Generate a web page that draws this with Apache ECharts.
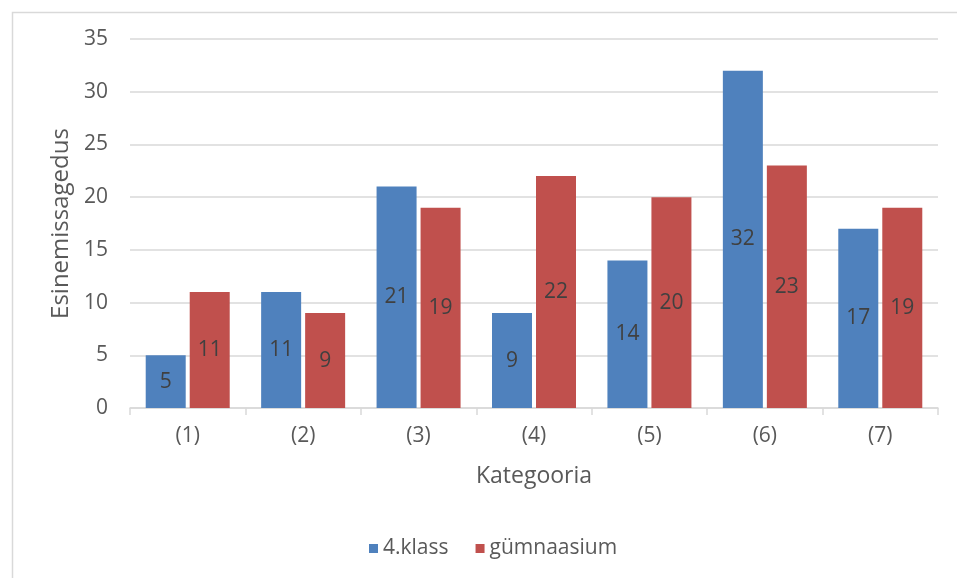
<!DOCTYPE html>
<html>
<head>
<meta charset="utf-8">
<script src="https://cdn.jsdelivr.net/npm/echarts@6/dist/echarts.min.js"></script>
<style>
html,body{margin:0;padding:0;background:#fff;}
#main{width:957px;height:578px;}
</style>
</head>
<body>
<div id="main"></div>
<script>
const categories = ['(1)', '(2)', '(3)', '(4)', '(5)', '(6)', '(7)'];
const seriesNames = ['4.klass', 'gümnaasium'];
const klass4 = [5, 11, 21, 9, 14, 32, 17];
const gymnaasium = [11, 9, 19, 22, 20, 23, 19];
const yTicks = { min: 0, max: 35, interval: 5 };

const font = 'Open Sans';
const textColor = '#595959';
const chart = echarts.init(document.getElementById('main'));
const labelStyle = {
  show: true, position: 'inside', color: '#404040',
  fontFamily: font, fontSize: 21
};
chart.setOption({
  animation: false,
  graphic: [{
    type: 'rect', left: 10, top: 10, z: -1,
    shape: { width: 1000, height: 620 },
    style: { fill: 'none', stroke: '#D9D9D9', lineWidth: 1.5 }
  }],
  grid: { left: 130, right: 19, top: 39, bottom: 170 },
  legend: {
    bottom: 14, left: 364,
    itemWidth: 9, itemHeight: 9, itemGap: 27,
    icon: 'rect',
    textStyle: { color: textColor, fontFamily: font, fontSize: 21 },
    data: seriesNames
  },
  xAxis: {
    type: 'category', data: categories,
    name: 'Kategooria', nameLocation: 'middle', nameGap: 57,
    nameTextStyle: { color: textColor, fontFamily: font, fontSize: 23 },
    axisLine: { lineStyle: { color: '#D9D9D9', width: 1.5 } },
    axisTick: { show: true, length: 7, lineStyle: { color: '#D9D9D9', width: 1.5 } },
    axisLabel: { color: textColor, fontFamily: font, fontSize: 21, margin: 18 }
  },
  yAxis: {
    type: 'value', min: yTicks.min, max: yTicks.max, interval: yTicks.interval,
    name: 'Esinemissagedus', nameLocation: 'middle', nameGap: 54,
    nameTextStyle: { color: textColor, fontFamily: font, fontSize: 24 },
    axisLine: { show: false }, axisTick: { show: false },
    axisLabel: { color: textColor, fontFamily: font, fontSize: 21, margin: 22 },
    splitLine: { lineStyle: { color: '#D9D9D9', width: 1.5 } }
  },
  series: [
    { name: seriesNames[0], type: 'bar', data: klass4, barWidth: 40, barGap: '10%',
      itemStyle: { color: '#4F81BD' }, label: labelStyle },
    { name: seriesNames[1], type: 'bar', data: gymnaasium, barWidth: 40,
      itemStyle: { color: '#C0504D' }, label: labelStyle }
  ]
});
</script>
</body>
</html>
